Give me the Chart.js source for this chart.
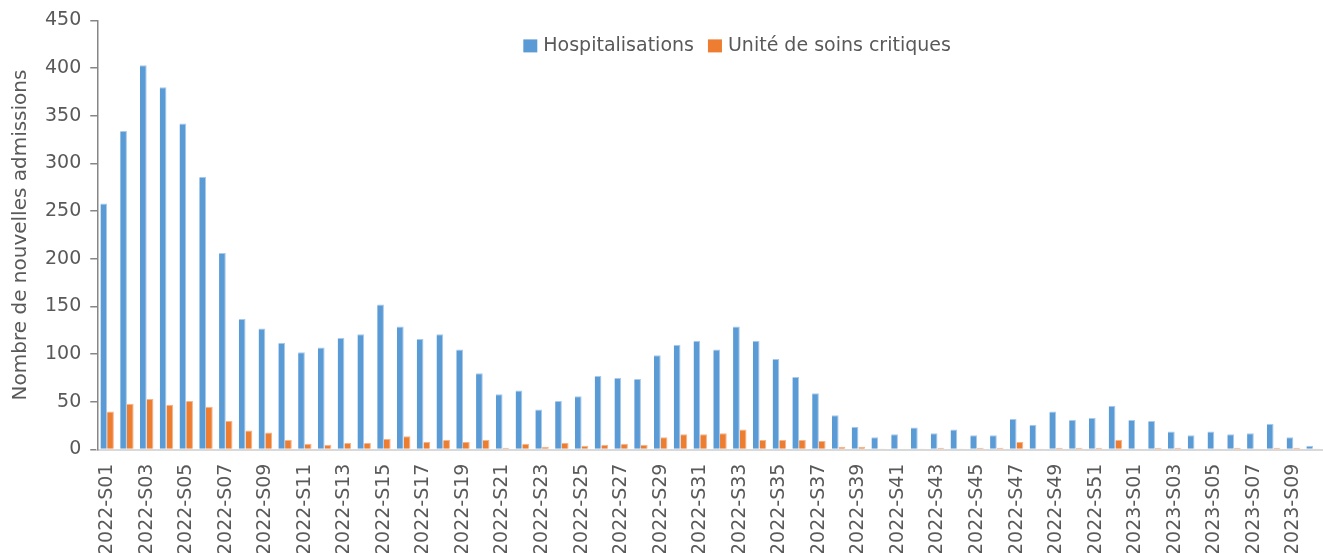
<!DOCTYPE html>
<html>
<head>
<meta charset="utf-8">
<script src="https://cdn.jsdelivr.net/npm/chart.js@4"></script>
<style>
  html, body { margin: 0; padding: 0; background: #fff; overflow: hidden; }
  #wrap { width: 1323px; height: 553px; overflow: hidden; }
  #box { width: 1323px; height: 569px; position: relative; }
</style>
</head>
<body>
<div id="wrap"><div id="box"><canvas id="chart"></canvas></div></div>
<script>
// weeks 2022-S01 .. 2022-S52, then 2023-S01 .. 2023-S10
const weeks = [];
for (let i = 1; i <= 52; i++) weeks.push('2022-S' + String(i).padStart(2, '0'));
for (let i = 1; i <= 10; i++) weeks.push('2023-S' + String(i).padStart(2, '0'));

const hospitalisations = [
    258, 334, 403, 380, 342, 286, 206, 137, 127, 112,
    102, 107, 117, 121, 152, 129, 116, 121, 105, 80,
    58, 62, 42, 51, 56, 77, 75, 74, 99, 110,
    114, 105, 129, 114, 95, 76, 59, 36, 24, 13,
    16, 23, 17, 21, 15, 15, 32, 26, 40, 31,
    33, 46,
    31, 30, 19, 15, 19, 16, 17, 27, 13, 4
];
const soinsCritiques = [
    40, 48, 53, 47, 51, 45, 30, 20, 18, 10,
    6, 5, 7, 7, 11, 14, 8, 10, 8, 10,
    2, 6, 3, 7, 4, 5, 6, 5, 13, 16,
    16, 17, 21, 10, 10, 10, 9, 3, 3, 1,
    0, 1, 2, 1, 2, 2, 8, 1, 2, 2,
    2, 10,
    1, 2, 2, 1, 1, 2, 1, 2, 2, 1
];
const yTicks = [0, 50, 100, 150, 200, 250, 300, 350, 400, 450];

const textColor = '#595959';
const fontFamily = "'DejaVu Sans', sans-serif";

// legend drawn inside the plot, centred near the top like the original
const insideLegend = {
    id: 'insideLegend',
    afterDraw(chart) {
        const ctx = chart.ctx;
        const area = chart.chartArea;
        ctx.save();
        ctx.font = '19px ' + fontFamily;
        ctx.textBaseline = 'middle';
        const box = 14, gap = 6, spacing = 14;
        const items = chart.data.datasets.map(ds => ({
            text: ds.label, color: ds.backgroundColor, w: ctx.measureText(ds.label).width
        }));
        const total = items.reduce((s, it) => s + box + gap + it.w, 0) + spacing * (items.length - 1);
        const cx = area.left + (area.right - area.left) * 0.522;
        const cy = area.top + 26;
        let x = cx - total / 2;
        items.forEach(it => {
            ctx.fillStyle = it.color;
            ctx.fillRect(x, cy - 7, box, 13);
            x += box + gap;
            ctx.fillStyle = textColor;
            ctx.fillText(it.text, x, cy);
            x += it.w + spacing;
        });
        ctx.restore();
    }
};

new Chart(document.getElementById('chart').getContext('2d'), {
    type: 'bar',
    data: {
        labels: weeks,
        datasets: [{
            label: 'Hospitalisations',
            data: hospitalisations,
            backgroundColor: '#5B9BD5',
            borderColor: '#A9C9EA',
            borderWidth: { top: 1, right: 1, left: 0, bottom: 0 },
            categoryPercentage: 0.68,
            barPercentage: 1
        }, {
            label: 'Unité de soins critiques',
            data: soinsCritiques,
            backgroundColor: '#ED7D31',
            borderColor: '#F4B48A',
            borderWidth: { top: 1, right: 1, left: 0, bottom: 0 },
            categoryPercentage: 0.68,
            barPercentage: 1
        }]
    },
    plugins: [insideLegend],
    options: {
        responsive: true,
        maintainAspectRatio: false,
        animation: false,
        layout: { padding: { top: 4, right: 0, left: 9, bottom: 0 } },
        plugins: {
            tooltip: { enabled: false },
            legend: { display: false }
        },
        scales: {
            x: {
                afterFit: axis => { axis.paddingLeft = 0; axis.paddingRight = 0; },
                grid: { display: true, drawOnChartArea: false, drawTicks: false },
                border: { color: '#D9D9D9', width: 2 },
                ticks: {
                    autoSkip: false,
                    minRotation: 90,
                    maxRotation: 90,
                    padding: 14,
                    color: textColor,
                    font: { family: fontFamily, size: 19 },
                    callback: function (val, i) {
                        return i % 2 === 0 ? this.getLabelForValue(val) : '';
                    }
                }
            },
            y: {
                min: 0,
                max: 450,
                afterBuildTicks: axis => { axis.ticks = yTicks.map(v => ({ value: v })); },
                grid: { drawOnChartArea: false, drawTicks: true, tickLength: 7, color: '#868686', lineWidth: 1.5 },
                border: { color: '#868686', width: 1.5 },
                ticks: {
                    color: textColor,
                    padding: 9,
                    font: { family: fontFamily, size: 19 }
                },
                title: {
                    display: true,
                    text: 'Nombre de nouvelles admissions',
                    color: textColor,
                    font: { family: fontFamily, size: 20 },
                    padding: { top: 0, bottom: 3 }
                }
            }
        }
    }
});
</script>
</body>
</html>
